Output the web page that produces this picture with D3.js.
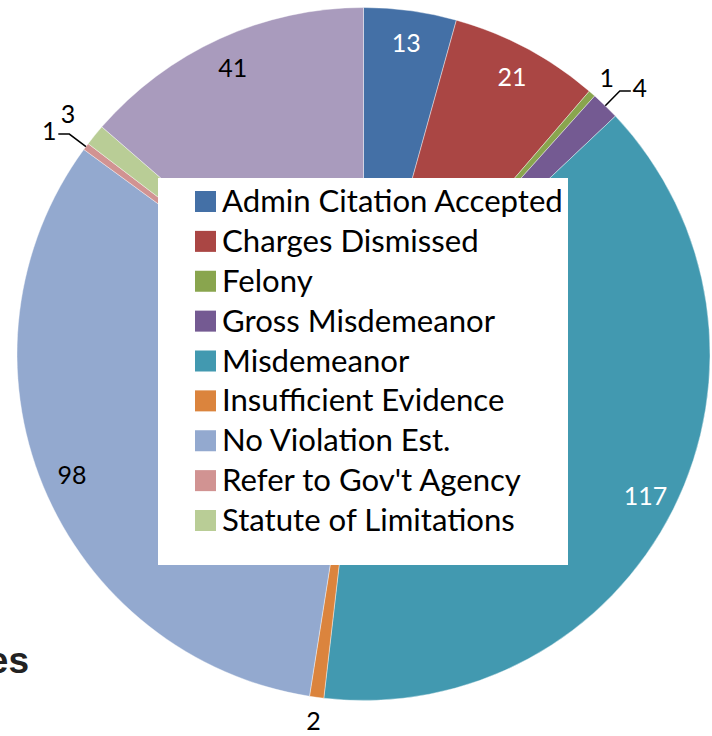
<!DOCTYPE html>
<html>
<head>
<meta charset="utf-8">
<script src="https://cdn.jsdelivr.net/npm/d3@7"></script>
<style>
  body { margin: 0; background: #fff; }
  svg { display: block; }
</style>
</head>
<body>
<div class="canvas"></div>
<script>
// slice data, clockwise from 12 o'clock
const categories = ["Admin Citation Accepted", "Charges Dismissed", "Felony", "Gross Misdemeanor",
  "Misdemeanor", "Insufficient Evidence", "No Violation Est.", "Refer to Gov't Agency",
  "Statute of Limitations", "Other"];
const values = [13, 21, 1, 4, 117, 2, 98, 1, 3, 41];
const colors = ["#4470A6", "#AA4644", "#89A54E", "#745A92", "#4299B0", "#DB843D",
  "#93A9CF", "#D19392", "#B9CD96", "#A99BBD"];
const labelColors = ["#fff", "#fff", "#000", "#000", "#fff", "#000", "#000", "#000", "#000", "#000"];
const legendItems = categories.slice(0, 9);

const W = 712, H = 736;
const cx = 363.5, cy = 354, r = 346.5;

const svg = d3.select('.canvas')
  .append('svg')
  .attr('width', W)
  .attr('height', H);

// cut-off title text at bottom-left (clipped in the original too)
svg.append("text")
    .attr("x", 29)
    .attr("y", 673)
    .attr("text-anchor", "end")
    .style("font-family", "'Liberation Sans', Arial, sans-serif")
    .style("font-weight", "bold")
    .style("font-size", "37px")
    .style("fill", "#222")
    .text("es");

const pie = d3.pie().sort(null).value(d => d);
const arcs = pie(values);
const arc = d3.arc().innerRadius(0).outerRadius(r);

const g = svg.append("g").attr("transform", `translate(${cx},${cy})`);

g.selectAll("path.slice")
  .data(arcs)
  .join("path")
    .attr("class", "slice")
    .attr("d", arc)
    .attr("fill", (d, i) => colors[i])
    .attr("stroke", "#fff")
    .attr("stroke-width", 0.4);

// label placement: big slices inside, small ones outside (some with a leader)
function polar(rad, a) {
  return [rad * Math.sin(a), -rad * Math.cos(a)];
}
const leaders = { 3: 1, 7: -1 };  // index -> horizontal direction of leader tail
const outerFactor = { 8: 1.1 };

arcs.forEach((d, i) => {
  const mid = (d.startAngle + d.endAngle) / 2;
  let pos;
  if (d.value >= 10) {
    pos = polar(r * 0.91, mid);
  } else if (leaders[i] !== undefined) {
    const dir = leaders[i];
    const p0 = polar(r * 1.0, mid);
    const p1 = polar(r * 1.06, mid);
    const p2 = [p1[0] + dir * 11, p1[1]];
    g.append("path")
      .attr("d", d3.line()([p0, p1, p2]))
      .attr("fill", "none")
      .attr("stroke", "#000")
      .attr("stroke-width", 1.5);
    pos = [p2[0] + dir * 9, p2[1] - 4];
  } else {
    pos = polar(r * (outerFactor[i] || 1.065), mid);
  }
  g.append("text")
    .attr("x", pos[0])
    .attr("y", pos[1])
    .attr("text-anchor", "middle")
    .attr("dominant-baseline", "central")
    .style("font-family", "Lato, 'Open Sans', sans-serif")
    .style("font-size", "25px")
    .style("fill", labelColors[i])
    .text(d.value);
});

// legend
const legend = svg.append("g");
legend.append("rect")
  .attr("x", 158).attr("y", 178)
  .attr("width", 410).attr("height", 387)
  .attr("fill", "#fff");

const rowY = d3.scalePoint().domain(legendItems).range([200, 519]);

const rows = legend.selectAll("g.item")
  .data(legendItems)
  .join("g")
    .attr("class", "item")
    .attr("transform", d => `translate(0,${rowY(d)})`);

rows.append("rect")
  .attr("x", 195).attr("y", -9)
  .attr("width", 21).attr("height", 21)
  .attr("fill", (d, i) => colors[i]);

const txt = rows.append("text")
  .attr("x", 222)
  .attr("y", 0)
  .attr("dominant-baseline", "central")
  .style("font-family", "Lato, 'Open Sans', sans-serif")
  .style("font-size", "28px")
  .style("fill", "#000")
  .text(d => d);

// fit font so the longest entry spans the same width as the original
const widest = d3.max(txt.nodes(), n => n.getComputedTextLength());
txt.style("font-size", (28 * 341 / widest) + "px");
</script>
</body>
</html>
